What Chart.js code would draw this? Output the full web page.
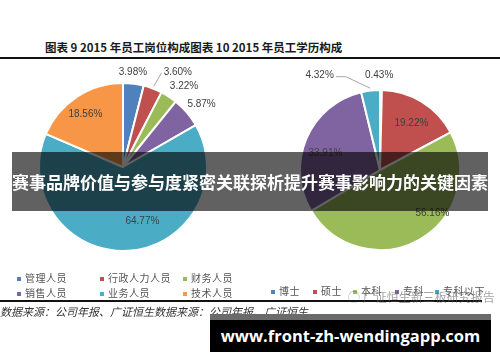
<!DOCTYPE html>
<html>
<head>
<meta charset="utf-8">
<script src="https://cdn.jsdelivr.net/npm/chart.js@4.4.1/dist/chart.umd.min.js"></script>
<style>
  body { margin: 0; width: 500px; height: 362px; background: #fff; position: relative; overflow: hidden; font-family: "Noto Sans CJK SC", sans-serif; }
  .abs { position: absolute; }
  #title { left: 45px; top: 39px; font-size: 11.5px; font-weight: bold; color: #1a1a1a; white-space: nowrap; }
  .rule { left: 0; height: 2px; background: #111; }
  .legend { font-size: 10px; color: #555; white-space: nowrap; letter-spacing: 0.5px; }
  .legend .mk { display: inline-block; width: 4px; height: 4px; margin-right: 4px; vertical-align: middle; }
  #source { left: 0; top: 303px; font-size: 11px; font-style: italic; color: #333; white-space: nowrap; }
  #banner { left: 12px; top: 152px; width: 476px; height: 59px; background: rgba(0,0,0,0.62); color: #fff; font-weight: bold; font-size: 17px; line-height: 59px; text-align: center; white-space: nowrap; z-index: 5; }
  #url { left: 210px; top: 314px; width: 281px; height: 32px; border-top: 6px solid #6b6b6b; background: #000; color: #fff; font-family: "Open Sans", sans-serif; font-weight: bold; font-size: 16.5px; line-height: 32px; text-align: center; white-space: nowrap; z-index: 5; }
  #mark { left: 348px; top: 288px; font-size: 12px; color: rgba(90,90,90,0.55); white-space: nowrap; z-index: 4; }
</style>
</head>
<body>
<div id="title" class="abs">图表 9 2015 年员工岗位构成图表 10 2015 年员工学历构成</div>
<div class="abs rule" style="top:57px; width:500px;"></div>

<canvas id="posChart" class="abs" width="246" height="214" style="left:0; top:60px;"></canvas>
<canvas id="eduChart" class="abs" width="240" height="220" style="left:260px; top:60px;"></canvas>

<div id="legendLeft"></div>
<div id="legendRight"></div>
<div id="mark" class="abs">◯ 广证恒生新三板研究报告</div>

<div class="abs rule" style="top:300px; width:482px;"></div>
<div id="source" class="abs">数据来源：公司年报、广证恒生数据来源：公司年报、广证恒生</div>

<div id="banner" class="abs">赛事品牌价值与参与度紧密关联探析提升赛事影响力的关键因素</div>
<div id="url" class="abs">www.front-zh-wendingapp.com</div>

<script>
// 图表 9: 员工岗位构成
const posLabels = ["管理人员", "行政人力人员", "财务人员", "销售人员", "业务人员", "技术人员"];
const posValues = [3.98, 3.60, 3.22, 5.87, 64.77, 18.56];
const posColors = ["#4F81BD", "#C0504D", "#9BBB59", "#8064A2", "#4BACC6", "#F79646"];

// 图表 10: 员工学历构成
const eduLabels = ["博士", "硕士", "本科", "专科", "专科以下"];
const eduValues = [0.43, 19.22, 56.16, 33.91, 4.32];
const eduColors = ["#4F81BD", "#C0504D", "#9BBB59", "#8064A2", "#4BACC6"];

// draws the percentage next to / inside each slice
const sliceLabels = {
  id: "sliceLabels",
  afterDatasetsDraw(chart, args, opts) {
    const ctx = chart.ctx;
    const meta = chart.getDatasetMeta(0);
    const values = chart.data.datasets[0].data;
    ctx.save();
    ctx.font = "10px 'Liberation Sans', sans-serif";
    ctx.fillStyle = "#404040";
    ctx.textAlign = "center";
    ctx.textBaseline = "middle";
    meta.data.forEach((arc, i) => {
      const p = arc.getProps(["x", "y", "startAngle", "endAngle", "outerRadius"], true);
      const mid = (p.startAngle + p.endAngle) / 2;
      const d = p.outerRadius * opts.dist[i];
      const lx = p.x + Math.cos(mid) * d + opts.offset[i][0];
      const ly = p.y + Math.sin(mid) * d + opts.offset[i][1];
      const text = values[i].toFixed(2) + "%";
      ctx.fillText(text, lx, ly);
      const lead = opts.leaders[i];
      if (lead) {
        const w = ctx.measureText(text).width / 2 + 2;
        const ex = p.x + Math.cos(mid) * p.outerRadius * 1.03;
        const ey = p.y + Math.sin(mid) * p.outerRadius * 1.03;
        const sx = lead === "left" ? lx - w : lx + w;
        ctx.strokeStyle = "#a6a6a6";
        ctx.lineWidth = 1;
        ctx.beginPath();
        ctx.moveTo(sx, ly + 1);
        if (lead === "right") ctx.lineTo(sx + 10, ly + 1);
        ctx.lineTo(ex, ey);
        ctx.stroke();
      }
    });
    ctx.restore();
  }
};

function makePie(id, labels, values, colors, radius, labelOpts) {
  return new Chart(document.getElementById(id), {
    type: "pie",
    data: {
      labels: labels,
      datasets: [{
        data: values,
        backgroundColor: colors,
        borderColor: "#ffffff",
        borderWidth: 2
      }]
    },
    options: {
      responsive: false,
      animation: false,
      radius: radius,
      layout: { padding: 0 },
      plugins: {
        legend: { display: false },
        tooltip: { enabled: false },
        sliceLabels: labelOpts
      }
    },
    plugins: [sliceLabels]
  });
}

makePie("posChart", posLabels, posValues, posColors, 84, {
  dist: [1.14, 1.2, 1.2, 1.2, 0.68, 0.77],
  offset: [[-2, 0], [19, -1], [6, 4], [2, 3], [16, -3], [-2, 1]],
  leaders: [null, "left", null, null, null, null]
});

makePie("eduChart", eduLabels, eduValues, eduColors, 80, {
  dist: [1.18, 0.7, 0.7, 0.7, 1.2],
  offset: [[-2, 0], [2, 1], [25, -6], [-3, 5], [-49, 1]],
  leaders: [null, null, null, null, "right"]
});

// legends built from the same arrays
function buildLegend(el, labels, colors, spots) {
  labels.forEach((name, i) => {
    const item = document.createElement("div");
    item.className = "abs legend";
    item.style.left = spots[i][0] + "px";
    item.style.top = spots[i][1] + "px";
    item.innerHTML = '<span class="mk" style="background:' + colors[i] + '"></span>' + name;
    el.appendChild(item);
  });
}
buildLegend(document.getElementById("legendLeft"), posLabels, posColors,
  [[17, 270], [100, 270], [183, 270], [17, 285], [100, 285], [183, 285]]);
buildLegend(document.getElementById("legendRight"), eduLabels, eduColors,
  [[271, 283], [313, 283], [353, 283], [395, 283], [435, 283]]);
</script>
</body>
</html>
